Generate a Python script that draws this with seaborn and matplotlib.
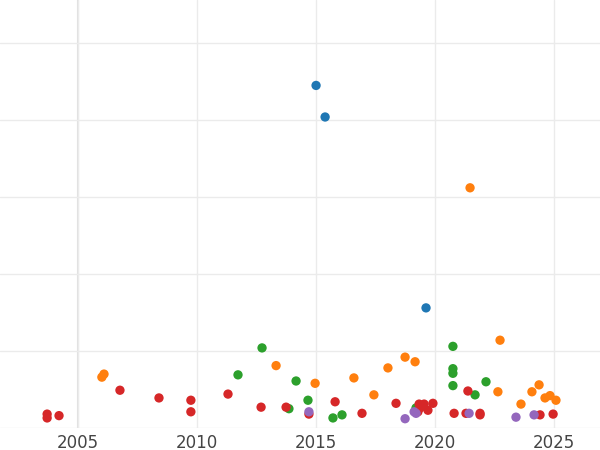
import matplotlib
matplotlib.use("Agg")
import matplotlib.pyplot as plt
import seaborn as sns
import pandas as pd

blue_x = [2015.0, 2015.38, 2019.62]
blue_y = [4.45, 4.04, 1.56]
orange_x = [2006.0, 2006.09, 2013.32, 2014.96, 2016.59, 2017.43, 2018.02, 2018.74, 2019.16,
            2021.47, 2022.64, 2022.73, 2023.61, 2024.07, 2024.37, 2024.62, 2024.83, 2025.08]
orange_y = [0.66, 0.70, 0.81, 0.58, 0.65, 0.43, 0.78, 0.92, 0.86,
            3.12, 0.47, 1.14, 0.31, 0.47, 0.56, 0.39, 0.42, 0.36]
green_x = [2011.72, 2012.73, 2013.86, 2014.16, 2014.66, 2015.71, 2016.09, 2020.75, 2020.75,
           2020.75, 2020.75, 2021.68, 2022.14, 2019.2]
green_y = [0.69, 1.04, 0.25, 0.61, 0.36, 0.13, 0.17, 0.55, 0.77, 0.71, 1.06, 0.43, 0.60, 0.26]
red_x = [2003.7, 2003.7, 2004.2, 2006.76, 2008.4, 2009.74, 2009.74, 2011.3, 2012.69, 2013.74,
         2014.7, 2015.8, 2016.93, 2018.36, 2019.33, 2019.37, 2019.54, 2019.7, 2019.91, 2020.8,
         2021.3, 2021.38, 2021.89, 2021.89, 2024.41, 2024.96, 2019.28]
red_y = [0.18, 0.13, 0.16, 0.49, 0.39, 0.36, 0.21, 0.44, 0.27, 0.27,
         0.18, 0.34, 0.19, 0.32, 0.31, 0.26, 0.31, 0.23, 0.32, 0.19,
         0.19, 0.48, 0.19, 0.17, 0.17, 0.18, 0.21]
purple_x = [2014.7, 2018.74, 2019.12, 2019.2, 2021.43, 2023.4, 2024.16]
purple_y = [0.21, 0.12, 0.21, 0.19, 0.19, 0.14, 0.17]

groups = [("a", blue_x, blue_y), ("b", orange_x, orange_y), ("c", green_x, green_y),
          ("d", red_x, red_y), ("e", purple_x, purple_y)]
df = pd.concat([pd.DataFrame({"year": x, "value": y, "group": g}) for g, x, y in groups])

sns.set_style("whitegrid")
fig = plt.figure(figsize=(6, 4.5), dpi=100)
ax = fig.add_axes([0, 0.049, 1, 0.951])
palette = ["#1f77b4", "#ff7f0e", "#2ca02c", "#d62728", "#9467bd"]
sns.scatterplot(data=df, x="year", y="value", hue="group", palette=palette,
                s=45, edgecolor="none", legend=False, ax=ax)
ax.set_xlim(2001.72, 2026.93)
ax.set_ylim(0, 5.56)
ax.set_xticks([2005, 2010, 2015, 2020, 2025])
ax.set_yticks([0, 1, 2, 3, 4, 5])
ax.set_yticklabels([])
ax.tick_params(axis="y", length=0)
ax.tick_params(axis="x", labelsize=12, colors="#444444", length=0, pad=4)
ax.grid(color="#ebebeb", linewidth=1)
ax.axvline(2005, color="#e0e0e0", linewidth=1.5, zorder=0)
ax.set_xlabel("")
ax.set_ylabel("")
for s in ax.spines.values():
    s.set_visible(False)
fig.savefig("out.png")
